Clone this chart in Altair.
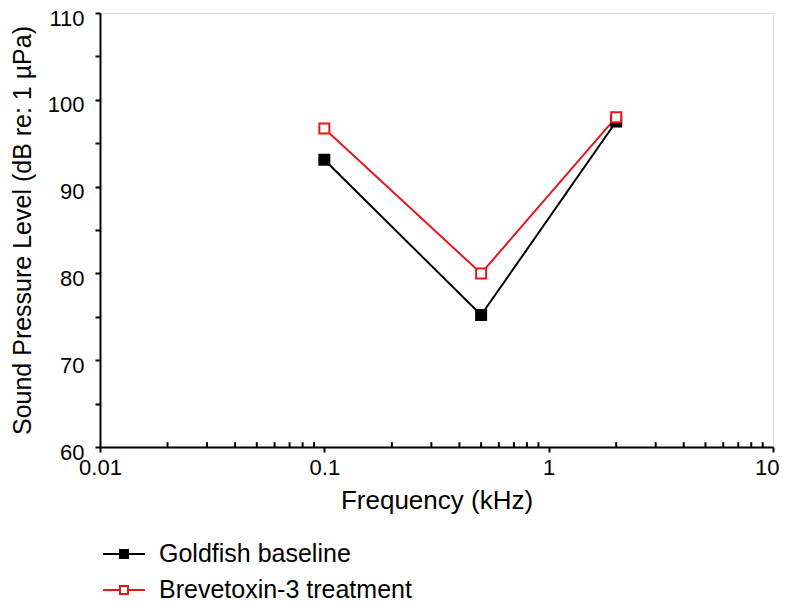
import altair as alt
import pandas as pd

# ---- data ----
series_names = ["Goldfish baseline", "Brevetoxin-3 treatment"]
freqs = [0.1, 0.5, 2]
goldfish = [93.1, 75.2, 97.5]
brevetoxin = [96.7, 80.0, 98.0]
x_major = [0.01, 0.1, 1, 10]
x_minor = [0.02, 0.03, 0.04, 0.05, 0.06, 0.07, 0.08, 0.09,
           0.2, 0.3, 0.4, 0.5, 0.6, 0.7, 0.8, 0.9,
           2, 3, 4, 5, 6, 7, 8, 9]
y_ticks = [60, 65, 70, 75, 80, 85, 90, 95, 100, 105, 110]

RED = "#e8161c"
FONT = "Liberation Sans"

rows = []
for name, vals in zip(series_names, [goldfish, brevetoxin]):
    for f, v in zip(freqs, vals):
        rows.append({"series": name, "f": f, "spl": v})
df = pd.DataFrame(rows)
minor_df = pd.DataFrame({"m": x_minor})

xscale = alt.Scale(type="log", domain=[0.01, 10], nice=False)
yscale = alt.Scale(domain=[60, 110], nice=False, zero=False)

xaxis = alt.Axis(values=x_major, format="~g", title="Frequency (kHz)",
                 grid=False, tickSize=5, tickWidth=2, tickColor="black",
                 domainColor="black", domainWidth=2, labelFontSize=22,
                 labelFont=FONT, labelColor="black", labelPadding=5,
                 labelAlign={"condition": {"test": "datum.value >= 10", "value": "right"},
                             "value": "center"},
                 labelOffset={"condition": {"test": "datum.value >= 10", "value": 6},
                              "value": 0},
                 titleFont=FONT, titleFontSize=26, titleFontWeight="normal",
                 titleColor="black", titlePadding=9, labelFlush=False)
yaxis = alt.Axis(values=y_ticks,
                 labelExpr="datum.value % 10 == 0 ? datum.label : ''",
                 title="Sound Pressure Level (dB re: 1 µPa)",
                 grid=False, tickSize=5, tickWidth=2, tickColor="black",
                 domainColor="black", domainWidth=2, labelFontSize=22,
                 labelFont=FONT, labelColor="black", labelPadding=11,
                 labelOffset=5,
                 titleFont=FONT, titleFontSize=25, titleFontWeight="normal",
                 titleColor="black", titlePadding=12, labelFlush=False)

legend = alt.Legend(
    title=None, orient="none", legendX=2, legendY=519, padding=0,
    symbolType="M-1,0H-0.19M0.19,0H1M-0.19,-0.19H0.19V0.19H-0.19Z",
    symbolSize=1764, symbolStrokeWidth=2, labelFontSize=25, labelFont=FONT,
    labelColor="black", labelOffset=13, rowPadding=1, labelLimit=500,
)

stroke_enc = alt.Stroke("series:N",
                        scale=alt.Scale(domain=series_names, range=["black", RED]),
                        legend=legend)
fill_enc = alt.Fill("series:N",
                    scale=alt.Scale(domain=series_names, range=["black", "white"]),
                    legend=legend)

x_enc = alt.X("f:Q", scale=xscale, axis=xaxis)
y_enc = alt.Y("spl:Q", scale=yscale, axis=yaxis)

lines = alt.Chart(df).mark_line(strokeWidth=2).encode(
    x=x_enc, y=y_enc, stroke=stroke_enc, detail="series:N")

points = alt.Chart(df).mark_point(shape="square", size=100, strokeWidth=2,
                                  opacity=1, fillOpacity=1, filled=False).encode(
    x=x_enc, y=y_enc, stroke=stroke_enc, fill=fill_enc)

minor = alt.Chart(minor_df).mark_rule(color="black", strokeWidth=2).encode(
    x=alt.X("m:Q", scale=xscale, axis=xaxis),
    y=alt.datum(60, scale=yscale),
    y2=alt.datum(60.55),
)

chart = alt.layer(minor, lines, points).properties(
    width=673, height=434,
    autosize=alt.AutoSizeParams(type="none"),
    padding={"left": 92, "top": 5, "right": 6, "bottom": 155},
).configure_view(stroke="black", strokeWidth=2).configure(background="white")

chart.save("out.html", embed_options={"renderer": "svg", "actions": False})
